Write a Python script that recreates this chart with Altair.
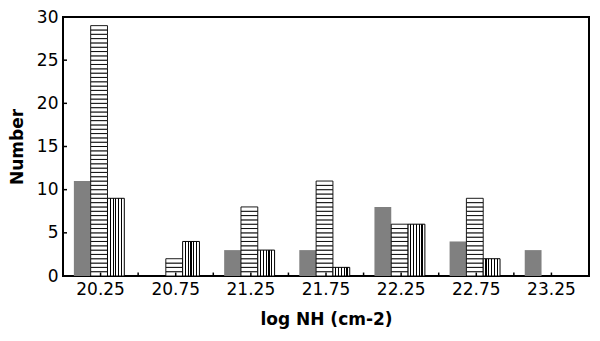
import altair as alt
import pandas as pd

# ---- data ----
bins = ["20.25", "20.75", "21.25", "21.75", "22.25", "22.75", "23.25"]
gray_counts = [11, 0, 3, 3, 8, 4, 3]
hhatch_counts = [29, 2, 8, 11, 6, 9, 0]
vhatch_counts = [9, 4, 3, 1, 6, 2, 0]
y_tick_values = [0, 5, 10, 15, 20, 25, 30]
series_names = ["gray", "hhatch", "vhatch"]

rows = []
for b, g, h, v in zip(bins, gray_counts, hhatch_counts, vhatch_counts):
    rows.append({"bin": b, "series": "gray", "value": g})
    rows.append({"bin": b, "series": "hhatch", "value": h})
    rows.append({"bin": b, "series": "vhatch", "value": v})
df = pd.DataFrame(rows)

# horizontal hatching: split each hatched bar into stacked segments
HATCH_STEP = 0.5
seg_rows = []
for b, h in zip(bins, hhatch_counts):
    n = int(round(h / HATCH_STEP))
    for k in range(n):
        seg_rows.append({"bin": b, "series": "hhatch",
                         "lo": k * HATCH_STEP, "hi": (k + 1) * HATCH_STEP})
seg = pd.DataFrame(seg_rows)

ticks_df = pd.DataFrame({"bin": bins})
yticks_df = pd.DataFrame({"v": y_tick_values})

# ---- shared encodings ----
x_scale = alt.Scale(domain=bins, paddingInner=0, paddingOuter=0)
x_axis = alt.Axis(title="log NH (cm-2)", labelAngle=0, ticks=False, domain=False,
                  labelPadding=5, titlePadding=14, grid=False)
y_scale = alt.Scale(domain=[0, 30], nice=False)
y_axis = alt.Axis(title="Number", values=y_tick_values, ticks=False, domain=False,
                  labelPadding=5, titlePadding=10, grid=False)
xo = alt.XOffset("series:N", scale=alt.Scale(domain=series_names, paddingInner=0,
                                              paddingOuter=0.735, align=0.44))


def X(band_pos=None):
    if band_pos is None:
        return alt.X("bin:N", sort=bins, scale=x_scale, axis=x_axis, title="log NH (cm-2)")
    return alt.X("bin:N", sort=bins, scale=x_scale, axis=x_axis, title="log NH (cm-2)",
                 bandPosition=band_pos)


stops = [alt.GradientStop(offset=0, color="white")]
for i in range(1, 6):
    c = i / 6
    stops += [
        alt.GradientStop(offset=c - 0.035, color="white"),
        alt.GradientStop(offset=c - 0.035, color="black"),
        alt.GradientStop(offset=c + 0.035, color="black"),
        alt.GradientStop(offset=c + 0.035, color="white"),
    ]
stops.append(alt.GradientStop(offset=1, color="white"))
vgrad = alt.LinearGradient(gradient="linear", stops=stops, x1=0, x2=1, y1=0, y2=0)

gray_layer = alt.Chart(df).transform_filter(
    "datum.series == 'gray' && datum.value > 0"
).mark_bar(color="#808080").encode(
    x=X(), xOffset=xo,
    y=alt.Y("value:Q", scale=y_scale, axis=y_axis, title="Number"),
)

hh_layer = alt.Chart(seg).mark_bar(fill="white", stroke="black", strokeWidth=0.9).encode(
    x=X(), xOffset=xo,
    y=alt.Y("lo:Q", scale=y_scale, axis=y_axis, title="Number"),
    y2="hi:Q",
)

vh_layer = alt.Chart(df).transform_filter(
    "datum.series == 'vhatch' && datum.value > 0"
).mark_bar(fill=vgrad, stroke="black", strokeWidth=1).encode(
    x=X(), xOffset=xo,
    y=alt.Y("value:Q", scale=y_scale, axis=y_axis, title="Number"),
)

xtick_center = alt.Chart(ticks_df).mark_rule(color="black", strokeWidth=1.5).encode(
    x=X(0.5),
    y=alt.YDatum(0, scale=y_scale, axis=y_axis, title="Number"),
    y2=alt.Y2Datum(0.4),
)
xtick_edge = alt.Chart(ticks_df).mark_rule(color="black", strokeWidth=1.5).encode(
    x=X(0),
    y=alt.YDatum(0, scale=y_scale, axis=y_axis, title="Number"),
    y2=alt.Y2Datum(0.4),
)
ytick = alt.Chart(yticks_df).mark_rule(color="black", strokeWidth=1.5).encode(
    y=alt.Y("v:Q", scale=y_scale, axis=y_axis, title="Number"),
    x=alt.value(0), x2=alt.value(4),
)

chart = alt.layer(
    gray_layer, hh_layer, vh_layer, xtick_center, xtick_edge, ytick
).properties(
    width=583, height=324,
    autosize=alt.AutoSizeParams(type="fit", contains="padding"),
    padding={"left": 0, "right": 2, "top": 0, "bottom": 5},
).configure(
    font="DejaVu Sans", background="white"
).configure_view(
    stroke="black", strokeWidth=2
).configure_axis(
    labelFontSize=17, labelColor="black", labelFont="DejaVu Sans",
    titleFontSize=17, titleColor="black", titleFontWeight="bold", titleFont="DejaVu Sans",
)

chart.save("out.html", embed_options={"renderer": "svg", "actions": False})
